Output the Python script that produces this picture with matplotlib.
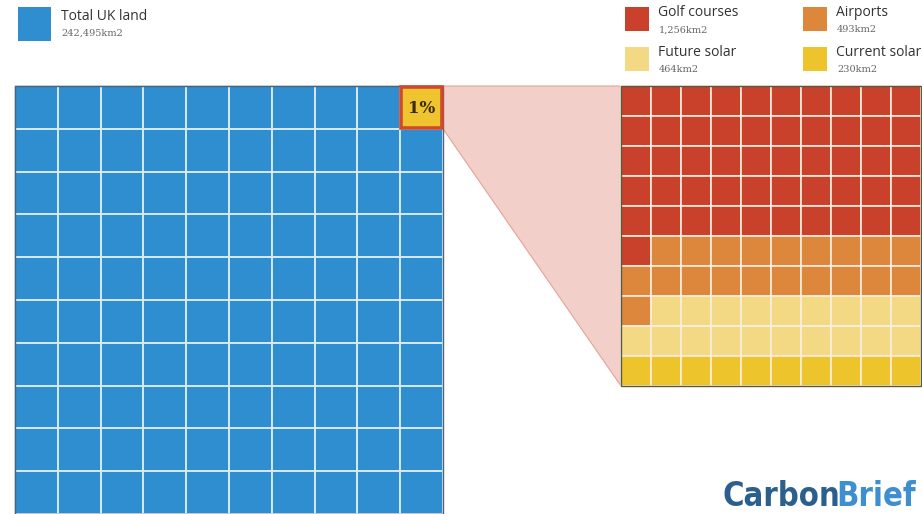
import matplotlib
matplotlib.use("Agg")
import matplotlib.pyplot as plt
from matplotlib.patches import Rectangle, Polygon
from matplotlib import font_manager as fm

# ---- data ----
land_label = "Total UK land"
land_area_km2 = 242495
land_area_text = "242,495km2"

use_labels = ["Golf courses", "Airports", "Future solar", "Current solar"]
use_area_km2 = [1256, 493, 464, 230]
use_area_text = ["1,256km2", "493km2", "464km2", "230km2"]
use_cells = [51, 20, 19, 10]          # cells of 100 in the zoomed grid
use_colors = ["#c9412b", "#dc873b", "#f3d983", "#eec42d"]

land_color = "#2e8ecf"
highlight_text = "1%"
logo_parts = ["Carbon", "Brief"]
logo_colors = ["#2b5f8e", "#3d8fd0"]

W, H = 922, 514
fig = plt.figure(figsize=(W / 100, H / 100), dpi=100)
ax = fig.add_axes([0, 0, 1, 1])
ax.set_xlim(0, W)
ax.set_ylim(H, 0)
ax.axis("off")

# ---- layout ----
L_x0, L_y0, L_cell = 15, 86, 42.8
R_x0, R_y0, R_cell = 621, 86, 30.0
n = 10

# pink connector
hx0 = L_x0 + (n - 1) * L_cell
conn = Polygon([(hx0, L_y0), (R_x0, R_y0), (R_x0, R_y0 + n * R_cell),
                (hx0 + L_cell, L_y0 + L_cell)], closed=True,
               facecolor="#f2cfc8", edgecolor="#e6a397", lw=0.8, zorder=1)
ax.add_patch(conn)

# left grid
for r in range(n):
    for c in range(n):
        ax.add_patch(Rectangle((L_x0 + c * L_cell, L_y0 + r * L_cell), L_cell, L_cell,
                               facecolor=land_color, edgecolor="#d5e9f6", lw=1.4, zorder=2))
ax.add_patch(Rectangle((L_x0, L_y0), n * L_cell, n * L_cell, fill=False,
                       edgecolor="#4f6577", lw=1.0, zorder=3))
# highlighted cell
ax.add_patch(Rectangle((hx0 + 1, L_y0 + 1), L_cell - 2, L_cell - 2, facecolor="#efc42e",
                       edgecolor="#cf4a2c", lw=2.6, zorder=4))
ax.text(hx0 + L_cell / 2, L_y0 + L_cell / 2 + 1, highlight_text, ha="center", va="center",
        fontsize=12, fontweight="bold", family="DejaVu Serif", color="#3b2a12", zorder=5)

# right grid
cell_colors = []
for cnt, col in zip(use_cells, use_colors):
    cell_colors += [col] * cnt
for i, col in enumerate(cell_colors):
    r, c = divmod(i, n)
    ax.add_patch(Rectangle((R_x0 + c * R_cell, R_y0 + r * R_cell), R_cell, R_cell,
                           facecolor=col, edgecolor="#fbeee0", lw=1.2, zorder=2))
ax.add_patch(Rectangle((R_x0, R_y0), n * R_cell, n * R_cell, fill=False,
                       edgecolor="#5a5a40", lw=1.0, zorder=3))

# legends
def legend_item(x, y, color, label, sub, size=24):
    ax.add_patch(Rectangle((x, y), size, size, facecolor=color, edgecolor="none", zorder=2))
    ax.text(x + size + 9, y + 5, label, ha="left", va="center", fontsize=10,
            family="Open Sans", color="#333333", zorder=5)
    ax.text(x + size + 10, y + 23, sub, ha="left", va="center", fontsize=7,
            family="DejaVu Serif", color="#666666", zorder=5)

ax.add_patch(Rectangle((18, 7), 33, 34, facecolor=land_color, edgecolor="none"))
ax.text(61, 16, land_label, ha="left", va="center", fontsize=10, family="Open Sans",
        color="#333333")
ax.text(61, 33, land_area_text, ha="left", va="center", fontsize=7, family="DejaVu Serif",
        color="#666666")

pos = [(625, 7), (803, 7), (625, 47), (803, 47)]
for (x, y), col, lab, sub in zip(pos, use_colors, use_labels, use_area_text):
    legend_item(x, y, col, lab, sub)

# logo (fit into 722..915 px), prefer a condensed bold face if one is installed
cands = [f for f in fm.fontManager.ttflist
         if (("Condensed" in f.name) or ("Narrow" in f.name) or
             f.stretch in ("condensed", "semi-condensed", "extra-condensed"))
         and (f.weight in ("bold", 700, "heavy", "black") or
              (isinstance(f.weight, int) and f.weight >= 700))]
if cands:
    logo_prop = fm.FontProperties(fname=cands[0].fname)
else:
    logo_prop = fm.FontProperties(family="Liberation Sans", weight="bold")
renderer = fig.canvas.get_renderer()
logo_x0, logo_x1, logo_base = 722, 915, 506
gap = -4
fs = 30
texts = []
for part, col in zip(logo_parts, logo_colors):
    p = logo_prop.copy()
    p.set_size(fs)
    texts.append(ax.text(0, logo_base, part, ha="left", va="baseline",
                         fontproperties=p, color=col, zorder=5))
widths = [t.get_window_extent(renderer).width for t in texts]
scale = (logo_x1 - logo_x0 - gap) / sum(widths)
fs2 = min(fs * scale, 34)
x = logo_x0
for t in texts:
    t.set_fontsize(fs2)
    t.set_x(x)
    x += t.get_window_extent(renderer).width + gap

fig.savefig("out.png", dpi=100, facecolor="white")
